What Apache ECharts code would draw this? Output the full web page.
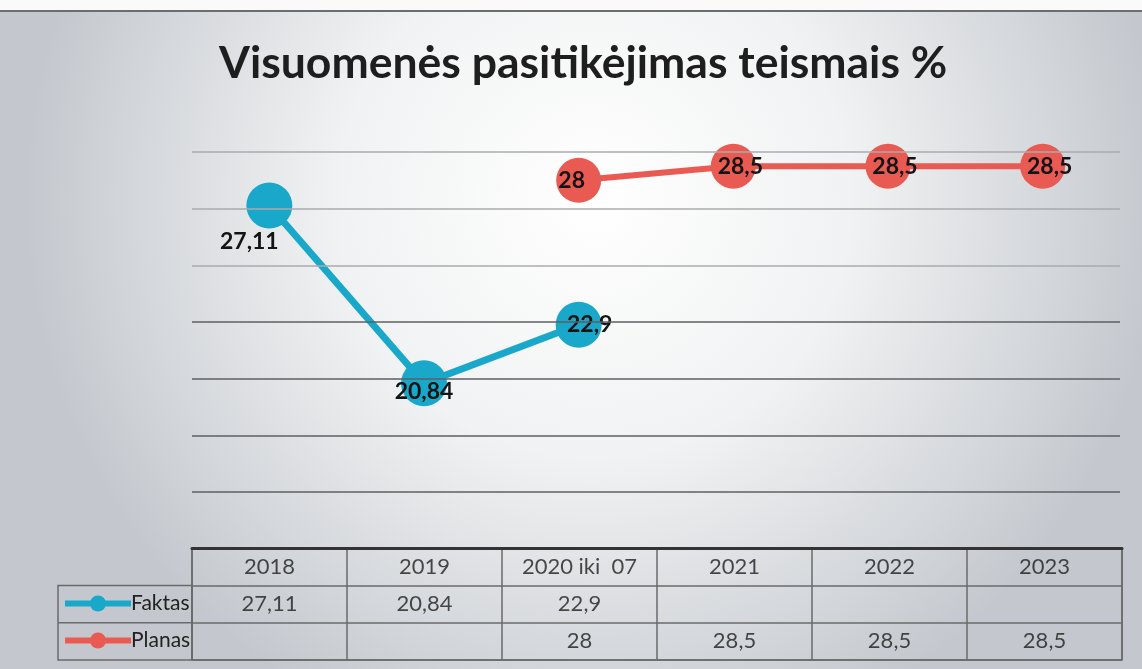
<!DOCTYPE html>
<html>
<head>
    <meta charset="utf-8">
    <title>Visuomenės pasitikėjimas teismais</title>
    <script src="https://cdn.jsdelivr.net/npm/echarts@6/dist/echarts.min.js"></script>
    <style>
        html, body { margin: 0; padding: 0; }
        #chart { width: 1142px; height: 669px; }
    </style>
</head>
<body>
<div id="chart"></div>
<script type="text/javascript">
    // data
    var categories = ['2018', '2019', '2020 iki  07', '2021', '2022', '2023'];
    var faktas = [27.11, 20.84, 22.9, null, null, null];
    var planas = [null, null, 28, 28.5, 28.5, 28.5];
    var gridValues = [17, 19, 21, 23, 25, 27, 29];
    var rowNames = ['header', 'Faktas', 'Planas'];

    // label placement per point (style only)
    var faktasLabelOffset = [[-20, 36], [0, 8], [11, 0]];
    var planasLabelOffset = [[0, 0], [0, 0], [-7, 0], [7, 0], [7, 0], [7, 0]];

    var FONT = 'Lato';
    var BLUE = '#1aa8ca';
    var RED = '#e85a52';

    function fmt(v) {
        return String(v).replace('.', ',');
    }

    function withLabels(values, offsets) {
        return values.map(function (v, i) {
            if (v == null) return null;
            return { value: v, label: { offset: offsets[i] } };
        });
    }

    // table cells: [column, row, text]
    var tableCells = [];
    categories.forEach(function (c, i) {
        tableCells.push([i, 0, c]);
    });
    faktas.forEach(function (v, i) {
        if (v != null) tableCells.push([i, 1, fmt(v)]);
    });
    planas.forEach(function (v, i) {
        if (v != null) tableCells.push([i, 2, fmt(v)]);
    });

    var chart = echarts.init(document.getElementById('chart'));
    var option = {
        backgroundColor: {
            type: 'radial', x: 0.52, y: 0.3, r: 0.85,
            colorStops: [
                { offset: 0, color: '#ffffff' },
                { offset: 0.45, color: '#f1f2f3' },
                { offset: 1, color: '#c4c8ce' }
            ]
        },
        animation: false,
        title: {
            text: 'Visuomenės pasitikėjimas teismais %',
            left: 214,
            top: 36,
            textStyle: { fontFamily: FONT, fontSize: 44.5, fontWeight: 'bold', color: '#1e1e1e' }
        },
        legend: {
            data: ['Faktas', 'Planas'],
            orient: 'vertical',
            left: 62,
            top: 593,
            padding: 0,
            itemWidth: 66,
            itemHeight: 20,
            itemGap: 16,
            lineStyle: { width: 6 },
            textStyle: { fontFamily: FONT, fontSize: 21, color: '#222', padding: [0, 0, 0, -5] }
        },
        grid: [{
            left: 192, right: 22, top: 152, bottom: 177
        }, {
            left: 192, right: 20, top: 548, bottom: 9,
            show: true, borderColor: '#6a6a6a', borderWidth: 1.5, backgroundColor: 'transparent'
        }],
        xAxis: [{
            type: 'category', gridIndex: 0, data: categories,
            axisLine: { show: false }, axisTick: { show: false }, axisLabel: { show: false },
            splitLine: { show: false }
        }, {
            type: 'category', gridIndex: 1, data: categories, position: 'top',
            axisLine: { show: true, lineStyle: { color: '#333', width: 3 } },
            axisTick: { show: false }, axisLabel: { show: false },
            splitLine: { show: true, lineStyle: { color: '#6a6a6a', width: 1.5 } }
        }],
        yAxis: [{
            type: 'value', gridIndex: 0, min: 17, max: 29,
            axisLine: { show: false }, axisTick: { show: false }, axisLabel: { show: false },
            splitLine: { show: false }
        }, {
            type: 'category', gridIndex: 1, data: rowNames, inverse: true,
            axisLine: { show: false }, axisTick: { show: false }, axisLabel: { show: false },
            splitLine: { show: true, lineStyle: { color: '#6a6a6a', width: 1.5 } }
        }],
        graphic: [
            { type: 'rect', shape: { x: 0, y: 0, width: 1142, height: 10 }, style: { fill: '#fafafa' } },
            { type: 'line', shape: { x1: 0, y1: 11, x2: 1142, y2: 11 }, style: { stroke: '#6d6d6d', lineWidth: 2 } },
            { type: 'rect', shape: { x: 58, y: 585.5, width: 134, height: 74.5 },
              style: { fill: 'none', stroke: '#6a6a6a', lineWidth: 1.5 } },
            { type: 'line', shape: { x1: 58, y1: 622.8, x2: 192, y2: 622.8 },
              style: { stroke: '#6a6a6a', lineWidth: 1.5 } }
        ],
        series: [{
            name: 'gridlines',
            type: 'line',
            xAxisIndex: 0, yAxisIndex: 0,
            data: [],
            silent: true,
            markLine: {
                silent: true,
                symbol: 'none',
                label: { show: false },
                data: gridValues.map(function (v) {
                    return {
                        yAxis: v,
                        lineStyle: { type: 'solid', width: 1.5, color: v >= 25 ? '#a9abae' : '#5e5f62' }
                    };
                })
            }
        }, {
            name: 'Faktas',
            type: 'line',
            xAxisIndex: 0, yAxisIndex: 0,
            data: withLabels(faktas, faktasLabelOffset),
            symbol: 'circle',
            symbolSize: 46,
            lineStyle: { width: 7, color: BLUE },
            itemStyle: { color: BLUE },
            label: {
                show: true, position: 'inside',
                fontFamily: FONT, fontSize: 23, fontWeight: 'bold', color: '#141414',
                formatter: function (p) { return fmt(p.value); }
            },
            z: 3
        }, {
            name: 'Planas',
            type: 'line',
            xAxisIndex: 0, yAxisIndex: 0,
            data: withLabels(planas, planasLabelOffset),
            symbol: 'circle',
            symbolSize: 45,
            lineStyle: { width: 6, color: RED },
            itemStyle: { color: RED },
            label: {
                show: true, position: 'inside',
                fontFamily: FONT, fontSize: 23, fontWeight: 'bold', color: '#141414',
                formatter: function (p) { return fmt(p.value); }
            },
            z: 3
        }, {
            name: 'table',
            type: 'scatter',
            xAxisIndex: 1, yAxisIndex: 1,
            data: tableCells,
            symbolSize: 1,
            silent: true,
            itemStyle: { color: 'rgba(0,0,0,0)' },
            label: {
                show: true, position: 'inside',
                fontFamily: FONT, fontSize: 22, color: '#1e1e1e',
                formatter: function (p) { return p.value[2]; }
            }
        }]
    };
    chart.setOption(option);
</script>
</body>
</html>
